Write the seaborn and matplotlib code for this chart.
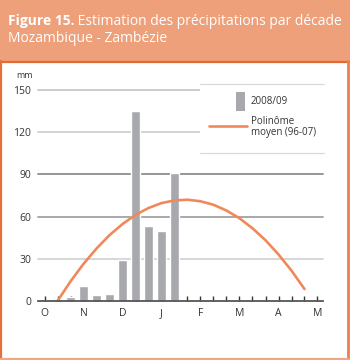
import matplotlib
matplotlib.use("Agg")
import matplotlib.pyplot as plt
import seaborn as sns
import pandas as pd
from matplotlib.patches import Rectangle
from matplotlib.lines import Line2D

# ---- data ----
decades = ["O1", "O2", "O3", "N1", "N2", "N3", "D1", "D2", "D3", "J1", "J2", "J3",
           "F1", "F2", "F3", "M1", "M2", "M3", "A1", "A2", "A3", "Y1"]
rain_2008_09 = [0, 1.5, 3, 11, 4, 5, 29, 135, 53, 50, 91, 0,
                0, 0, 0, 0, 0, 0, 0, 0, 0, 0]
poly_decades = ["O2", "O3", "N1", "N2", "N3", "D1", "D2", "D3", "J1", "J2", "J3",
                "F1", "F2", "F3", "M1", "M2", "M3", "A1", "A2", "A3"]
poly_mean = [0, 13.9, 26.4, 37.3, 46.8, 54.7, 61.2, 66.1, 69.6, 71.5, 72,
             70.9, 68.4, 64.3, 58.8, 51.7, 43.2, 33.1, 21.6, 8.5]
month_labels = ["O", "N", "D", "J", "F", "M", "A", "M"]
y_ticks = [0, 30, 60, 90, 120, 150]

title_bold = "Figure 15."
title_rest = " Estimation des précipitations par décade"
title_line2 = "Mozambique - Zambézie"
legend_bar = "2008/09"
legend_line = "Polinôme\nmoyen (96-07)"

W, H = 350, 360
FONT = "Open Sans"
sns.set_theme(style="white")
plt.rcParams["font.family"] = [FONT, "DejaVu Sans"]

fig = plt.figure(figsize=(W / 100, H / 100), dpi=100)
fig.patch.set_facecolor("white")


def fx(px):
    return px / W


def fy(py):
    return 1 - py / H


# header band
fig.add_artist(Rectangle((0, fy(61)), 1, 61 / H, transform=fig.transFigure,
                         facecolor="#EDA07A", edgecolor="none", zorder=0))
# panel frame
frame_c = "#E9804F"
fig.add_artist(Line2D([fx(0), fx(349)], [fy(61.5), fy(61.5)], color="#E46A33", lw=1.6,
                      transform=fig.transFigure))
fig.add_artist(Line2D([fx(1), fx(1)], [fy(61), fy(359)], color="#E4703A", lw=1.6,
                      transform=fig.transFigure))
fig.add_artist(Line2D([fx(348), fx(348)], [fy(61), fy(359)], color=frame_c, lw=2.0,
                      transform=fig.transFigure))
fig.add_artist(Line2D([fx(0), fx(349)], [fy(358.5), fy(358.5)], color="#F0A784", lw=1.6,
                      transform=fig.transFigure))

# header text
t1 = fig.text(fx(8), fy(25), title_bold, color="white", fontsize=10, fontweight="bold",
              va="baseline", ha="left")
fig.canvas.draw()
bb = t1.get_window_extent()
fig.text(bb.x1 / W, fy(25), title_rest, color="white", fontsize=10, va="baseline", ha="left")
fig.text(fx(8), fy(42), title_line2, color="white", fontsize=10, va="baseline", ha="left")

# axes
x0, x1 = 38, 323
ytop, ybot = 90, 301
ax = fig.add_axes([fx(x0), fy(ybot), (x1 - x0) / W, (ybot - ytop) / H])
ax.set_facecolor("none")

df = pd.DataFrame({"decade": decades, "rain": rain_2008_09})
sns.barplot(data=df, x="decade", y="rain", order=decades, color="#A7A9AC",
            saturation=1, width=0.72, ax=ax, zorder=2)

pos = {d: i for i, d in enumerate(decades)}
dfl = pd.DataFrame({"x": [pos[d] for d in poly_decades], "v": poly_mean})
sns.lineplot(data=dfl, x="x", y="v", ax=ax, color="#F0895A", lw=1.9, zorder=4,
             solid_capstyle="round")

ax.set_xlim(-0.5, (323 - 44.5) / 13)
ax.set_ylim(0, 150)

grid_cols = {30: "#D3D3D3", 60: "#A3A3A3", 90: "#8E8E8E", 120: "#D0D0D0", 150: "#C8C8C8"}
for v, c in grid_cols.items():
    ax.axhline(v, color=c, lw=1.3, zorder=1, clip_on=False)

for s in ["top", "right", "left"]:
    ax.spines[s].set_visible(False)
ax.spines["bottom"].set_color("#555555")
ax.spines["bottom"].set_linewidth(1.3)
ax.spines["bottom"].set_zorder(5)

ax.set_yticks(y_ticks)
ax.set_yticklabels([str(v) for v in y_ticks])
ax.tick_params(axis="y", length=0, pad=5, labelsize=7.5, labelcolor="#333333")
ax.set_xticks(range(len(decades)))
ax.set_xticklabels([month_labels[i // 3] if i % 3 == 0 else "" for i in range(len(decades))])
ax.tick_params(axis="x", direction="in", length=3.5, width=1, color="#333333",
               pad=5, labelsize=7.5, labelcolor="#333333", bottom=True)
for t in ax.xaxis.get_major_ticks():
    t.tick1line.set_zorder(6)
ax.set_xlabel("")
ax.set_ylabel("")

fig.text(fx(33), fy(76), "mm", fontsize=6.5, color="#333333", ha="right", va="center")

# legend block
fig.add_artist(Rectangle((fx(200), fy(153)), (324 - 200) / W, (153 - 84) / H,
                         transform=fig.transFigure, facecolor="white", edgecolor="none",
                         zorder=3))
for yy in (84, 153):
    fig.add_artist(Line2D([fx(200), fx(324)], [fy(yy), fy(yy)], color="#DADADA", lw=0.9,
                          transform=fig.transFigure, zorder=4))
fig.add_artist(Rectangle((fx(236), fy(111)), 9 / W, 19 / H, transform=fig.transFigure,
                         facecolor="#A7A9AC", edgecolor="none", zorder=5))
fig.text(fx(251), fy(101), legend_bar, fontsize=7, color="#333333", ha="left", va="center",
         zorder=6)
fig.add_artist(Line2D([fx(209), fx(247)], [fy(125.5), fy(125.5)], color="#F0895A", lw=1.9,
                      transform=fig.transFigure, zorder=5))
fig.text(fx(251), fy(127), legend_line, fontsize=7, color="#333333", ha="left", va="center",
         linespacing=1.1, zorder=6)

fig.savefig("out.png", dpi=100)
